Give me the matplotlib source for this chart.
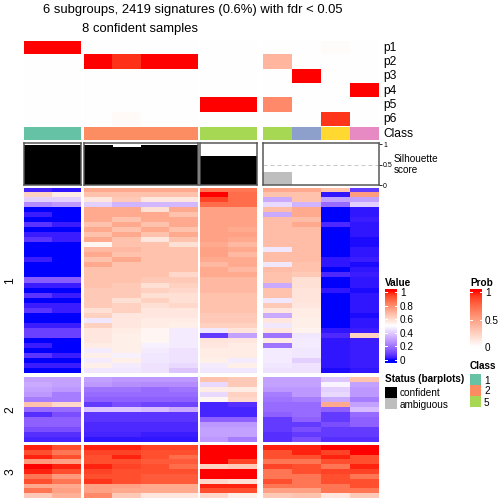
import numpy as np
import matplotlib
matplotlib.use('Agg')
import matplotlib.pyplot as plt
from matplotlib.colors import ListedColormap, to_rgb

plt.rcParams['font.family'] = ['Liberation Sans', 'DejaVu Sans']

# ---- data ----
col_class = [1, 1, 2, 2, 2, 2, 5, 5, 5, 3, 6, 4]
col_group = [0, 0, 1, 1, 1, 1, 2, 2, 3, 3, 3, 3]
confident = [True] * 8 + [False] * 4
silhouette = [0.99, 0.99, 0.99, 0.94, 0.99, 0.99, 0.71, 0.71, 0.32, 0, 0, 0]

prob_names = ['p1', 'p2', 'p3', 'p4', 'p5', 'p6']
p1 = [1, 1, 0, 0, 0, 0, 0, 0, 0, 0, 0.02, 0]
p2 = [0, 0, 1, 0.93, 1, 1, 0, 0, 0.38, 0, 0, 0]
p3 = [0, 0, 0, 0, 0, 0, 0, 0, 0, 1, 0, 0]
p4 = [0, 0, 0, 0, 0, 0, 0, 0, 0, 0, 0, 1]
p5 = [0, 0, 0, 0, 0, 0, 1, 1, 0.6, 0, 0, 0]
p6 = [0, 0, 0, 0.03, 0, 0, 0, 0, 0, 0, 0.92, 0]

cluster_names = ['1', '2', '3']

# values in hundredths, one row = one band of signatures, 12 samples
heat_c1 = [
    [4, 2, 72, 72, 72, 72, 84, 84, 72, 72, 66, 8],
    [62, 55, 66, 66, 66, 66, 100, 86, 66, 66, 2, 75],
    [40, 40, 56, 64, 56, 56, 94, 86, 32, 66, 30, 30],
    [25, 28, 40, 34, 35, 35, 86, 86, 42, 34, 18, 40],
    [0, 0, 72, 72, 58, 72, 74, 74, 67, 72, 0, 2],
    [3, 0, 72, 72, 72, 66, 74, 74, 32, 72, 0, 2],
    [0, 0, 72, 66, 72, 72, 74, 74, 67, 67, 0, 3],
    [7, 3, 66, 72, 66, 72, 74, 74, 67, 72, 5, 2],
    [0, 0, 72, 66, 72, 66, 74, 72, 67, 67, 0, 2],
    [3, 3, 66, 72, 66, 72, 74, 74, 67, 67, 0, 2],
    [7, 3, 72, 66, 56, 66, 74, 72, 67, 67, 0, 1],
    [0, 0, 52, 66, 66, 58, 72, 68, 67, 67, 0, 1],
    [0, 0, 68, 68, 66, 66, 74, 72, 45, 67, 0, 2],
    [0, 0, 72, 66, 66, 66, 74, 68, 67, 67, 0, 2],
    [3, 0, 66, 72, 66, 66, 72, 72, 67, 67, 2, 3],
    [0, 0, 72, 66, 66, 66, 68, 72, 45, 66, 2, 1],
    [0, 0, 66, 66, 66, 66, 72, 68, 67, 66, 0, 2],
    [0, 0, 66, 66, 66, 60, 72, 72, 66, 64, 5, 3],
    [15, 15, 66, 66, 64, 64, 68, 68, 66, 58, 0, 2],
    [3, 3, 66, 64, 58, 62, 68, 68, 32, 58, 0, 2],
    [0, 0, 64, 64, 62, 60, 68, 68, 66, 57, 2, 1],
    [7, 3, 64, 64, 58, 58, 66, 66, 66, 57, 0, 2],
    [0, 0, 64, 58, 62, 58, 66, 66, 45, 57, 0, 2],
    [3, 3, 64, 62, 58, 60, 66, 66, 64, 56, 0, 2],
    [7, 3, 58, 62, 56, 56, 66, 66, 56, 55, 0, 2],
    [0, 0, 62, 56, 56, 56, 64, 64, 32, 55, 0, 1],
    [0, 0, 45, 56, 55, 55, 64, 64, 56, 54, 0, 2],
    [3, 3, 62, 56, 55, 54, 62, 62, 45, 54, 0, 2],
    [9, 9, 56, 55, 52, 46, 45, 57, 56, 53, 2, 3],
    [9, 9, 56, 54, 52, 46, 8, 30, 20, 45, 5, 62],
    [0, 0, 56, 54, 52, 46, 57, 56, 55, 46, 2, 3],
    [3, 0, 55, 54, 47, 46, 56, 55, 20, 46, 2, 3],
    [0, 0, 46, 54, 46, 44, 55, 55, 46, 45, 2, 3],
    [7, 3, 54, 47, 45, 44, 55, 55, 46, 45, 2, 3],
    [0, 0, 46, 54, 45, 44, 54, 46, 46, 40, 2, 3],
    [3, 3, 54, 46, 44, 42, 46, 54, 45, 44, 2, 3],
    [0, 0, 45, 45, 44, 38, 45, 45, 44, 44, 1, 2],
]
heat_c2 = [
    [30, 30, 30, 28, 28, 28, 66, 64, 30, 30, 38, 66],
    [32, 30, 28, 26, 25, 25, 42, 64, 30, 30, 48, 30],
    [30, 28, 20, 20, 18, 20, 55, 55, 28, 28, 40, 28],
    [28, 22, 18, 18, 18, 18, 42, 62, 22, 28, 42, 28],
    [22, 22, 16, 16, 16, 16, 52, 60, 20, 22, 32, 22],
    [66, 60, 8, 12, 10, 10, 4, 6, 18, 18, 72, 30],
    [18, 18, 38, 38, 36, 32, 4, 4, 18, 18, 16, 36],
    [6, 12, 7, 7, 7, 7, 4, 4, 16, 18, 8, 18],
    [16, 16, 7, 7, 7, 7, 16, 16, 8, 16, 8, 16],
    [16, 16, 5, 5, 5, 5, 28, 28, 8, 8, 12, 16],
    [12, 12, 5, 5, 5, 5, 30, 30, 8, 12, 8, 8],
    [6, 6, 4, 4, 3, 3, 30, 30, 6, 8, 8, 8],
    [4, 4, 2, 2, 2, 2, 28, 22, 6, 12, 6, 6],
]
heat_c3 = [
    [98, 92, 98, 98, 94, 94, 100, 100, 98, 98, 100, 100],
    [92, 84, 94, 94, 92, 92, 100, 100, 92, 98, 94, 100],
    [98, 92, 92, 98, 92, 86, 100, 100, 92, 92, 98, 92],
    [76, 74, 92, 92, 90, 90, 100, 94, 84, 84, 92, 92],
    [100, 98, 98, 94, 92, 86, 62, 64, 94, 92, 84, 98],
    [98, 92, 94, 92, 92, 92, 100, 100, 84, 92, 94, 94],
    [84, 76, 92, 92, 90, 90, 100, 100, 84, 84, 92, 84],
    [92, 84, 96, 92, 90, 90, 60, 58, 92, 84, 92, 92],
    [72, 72, 74, 74, 72, 72, 98, 98, 84, 84, 84, 92],
    [84, 74, 74, 72, 72, 72, 92, 92, 74, 74, 84, 84],
    [64, 70, 80, 64, 56, 56, 60, 54, 64, 66, 56, 64],
]

class_colors = {1: '#66C2A5', 2: '#FC8D62', 3: '#8DA0CB', 4: '#E78AC3',
                5: '#A6D854', 6: '#FFD92F'}
legend_classes = [1, 2, 5]

# ---- colour ramps interpolated in LAB, like colorRamp2 ----
M = np.array([[0.4124, 0.3576, 0.1805],
              [0.2126, 0.7152, 0.0722],
              [0.0193, 0.1192, 0.9505]])
WP = np.array([0.95047, 1.0, 1.08883])


def rgb2lab(c):
    c = np.array(to_rgb(c))
    c = np.where(c <= 0.04045, c / 12.92, ((c + 0.055) / 1.055) ** 2.4)
    xyz = M @ c / WP
    f = np.where(xyz > 0.008856, np.cbrt(xyz), 7.787 * xyz + 16 / 116)
    return np.array([116 * f[1] - 16, 500 * (f[0] - f[1]), 200 * (f[1] - f[2])])


def lab2rgb(lab):
    fy = (lab[0] + 16) / 116
    f = np.array([fy + lab[1] / 500, fy, fy - lab[2] / 200])
    xyz = np.where(f > 0.2069, f ** 3, (f - 16 / 116) / 7.787) * WP
    c = np.clip(np.linalg.solve(M, xyz), 0, None)
    c = np.where(c <= 0.0031308, 12.92 * c, 1.055 * c ** (1 / 2.4) - 0.055)
    return np.clip(c, 0, 1)


def lab_cmap(colors, n=256):
    stops = [rgb2lab(c) for c in colors]
    seg = len(stops) - 1
    out = []
    for t in np.linspace(0, 1, n):
        i = min(int(t * seg), seg - 1)
        u = t * seg - i
        out.append(lab2rgb(stops[i] * (1 - u) + stops[i + 1] * u))
    return ListedColormap(out)


value_cmap = lab_cmap(['blue', 'white', 'red'])
prob_cmap = lab_cmap(['white', 'red'])

# ---- layout (pixels) ----
W = H = 504
fig = plt.figure(figsize=(7, 7), dpi=72, facecolor='white')


def px_axes(x0, y0, x1, y1):
    return fig.add_axes([x0 / W, 1 - y1 / H, (x1 - x0) / W, (y1 - y0) / H])


def bare(ax):
    ax.set_xticks([])
    ax.set_yticks([])
    for s in ax.spines.values():
        s.set_visible(False)


def ftext(x, y, s, **kw):
    fig.text(x / W, 1 - y / H, s, **kw)


group_x = [(24, 81), (84, 198), (200, 257), (263, 379)]
cluster_y = [(188, 373), (377, 442), (445, 498)]

prob = np.array([p1, p2, p3, p4, p5, p6])
heats = [np.array(h) / 100 for h in (heat_c1, heat_c2, heat_c3)]
col_group = np.array(col_group)

ftext(193, 10, '6 subgroups, 2419 signatures (0.6%) with fdr < 0.05',
      ha='center', va='center', size=13)
ftext(140, 29, '8 confident samples', ha='center', va='center', size=13)

for g, (x0, x1) in enumerate(group_x):
    cols = np.where(col_group == g)[0]
    n = len(cols)

    ax = px_axes(x0, 41, x1, 126)
    ax.imshow(prob[:, cols], cmap=prob_cmap, vmin=0, vmax=1, aspect='auto',
              interpolation='nearest')
    bare(ax)

    ax = px_axes(x0, 127, x1, 140)
    ax.imshow(np.array([[to_rgb(class_colors[col_class[c]]) for c in cols]]),
              aspect='auto', interpolation='nearest')
    bare(ax)

    ax = px_axes(x0, 143, x1, 185)
    ax.axhline(0.5, ls=(0, (4, 3)), color='#C8C8C8', lw=1, zorder=0)
    ax.bar(np.arange(n), [silhouette[c] for c in cols], width=1,
           color=['black' if confident[c] else '#BEBEBE' for c in cols], zorder=1)
    ax.set_xlim(-0.5, n - 0.5)
    ax.set_ylim(0, 1.03)
    ax.set_xticks([])
    for s in ax.spines.values():
        s.set_color('#555555')
        s.set_linewidth(1.5)
    if g == 3:
        ax.yaxis.tick_right()
        ax.set_yticks([0, 0.5, 1], ['0', '0.5', '1'])
        ax.tick_params(axis='y', labelsize=7, length=3, pad=1, width=0.8)
    else:
        ax.set_yticks([])

    for k, (y0, y1) in enumerate(cluster_y):
        ax = px_axes(x0, y0, x1, y1)
        ax.imshow(heats[k][:, cols], cmap=value_cmap, vmin=0, vmax=1,
                  aspect='auto', interpolation='nearest')
        bare(ax)

for i, name in enumerate(prob_names):
    ftext(383, 41 + 85 / 6 * (i + 0.5), name, va='center', size=12)
ftext(383, 134, 'Class', va='center', size=12)
ftext(394, 159, 'Silhouette', va='center', size=10)
ftext(394, 170, 'score', va='center', size=10)

for k, (y0, y1) in enumerate(cluster_y):
    ftext(10, (y0 + y1) / 2, cluster_names[k], rotation=90, ha='center',
          va='center', size=12)


# ---- legends ----
def colorbar(x0, y0, x1, y1, cmap, ticks, labels, lo, hi):
    ax = px_axes(x0, y0, x1, y1)
    grad = np.linspace(hi, lo, 200)[:, None]
    ax.imshow(grad, cmap=cmap, vmin=0, vmax=1, aspect='auto',
              extent=(0, 1, lo, hi))
    for v in ticks:
        ax.plot([0, 0.2], [v, v], color='white', lw=1)
        ax.plot([0.8, 1], [v, v], color='white', lw=1)
    ax.set_xlim(0, 1)
    ax.set_ylim(lo, hi)
    ax.set_xticks([])
    ax.yaxis.tick_right()
    ax.set_yticks(ticks, labels)
    ax.tick_params(axis='y', length=0, pad=3, labelsize=10)
    for s in ax.spines.values():
        s.set_visible(False)


ftext(385, 283, 'Value', va='center', size=10, weight='bold')
colorbar(385, 289, 397, 363, value_cmap, [0, 0.2, 0.4, 0.6, 0.8, 1],
         ['0', '0.2', '0.4', '0.6', '0.8', '1'], -0.044, 1.044)

ftext(470, 283, 'Prob', va='center', size=10, weight='bold')
colorbar(470, 289, 482, 349, prob_cmap, [0, 0.5, 1], ['0', '0.5', '1'],
         -0.036, 1.055)

ftext(470, 366, 'Class', va='center', size=10, weight='bold')
ax = px_axes(470, 374, 481, 407)
ax.imshow(np.array([[to_rgb(class_colors[c])] for c in legend_classes]),
          aspect='auto', interpolation='nearest')
ax.set_xticks([])
ax.yaxis.tick_right()
ax.set_yticks(range(len(legend_classes)), [str(c) for c in legend_classes])
ax.tick_params(axis='y', length=0, pad=3, labelsize=10)
for s in ax.spines.values():
    s.set_visible(False)

ftext(385, 379, 'Status (barplots)', va='center', size=10, weight='bold')
ax = px_axes(385, 387, 397, 409)
ax.imshow(np.array([[to_rgb('black')], [to_rgb('#BEBEBE')]]), aspect='auto',
          interpolation='nearest')
ax.set_xticks([])
ax.yaxis.tick_right()
ax.set_yticks([0, 1], ['confident', 'ambiguous'])
ax.tick_params(axis='y', length=0, pad=3, labelsize=10)
for s in ax.spines.values():
    s.set_visible(False)

fig.savefig('out.png', dpi=72, facecolor='white')
